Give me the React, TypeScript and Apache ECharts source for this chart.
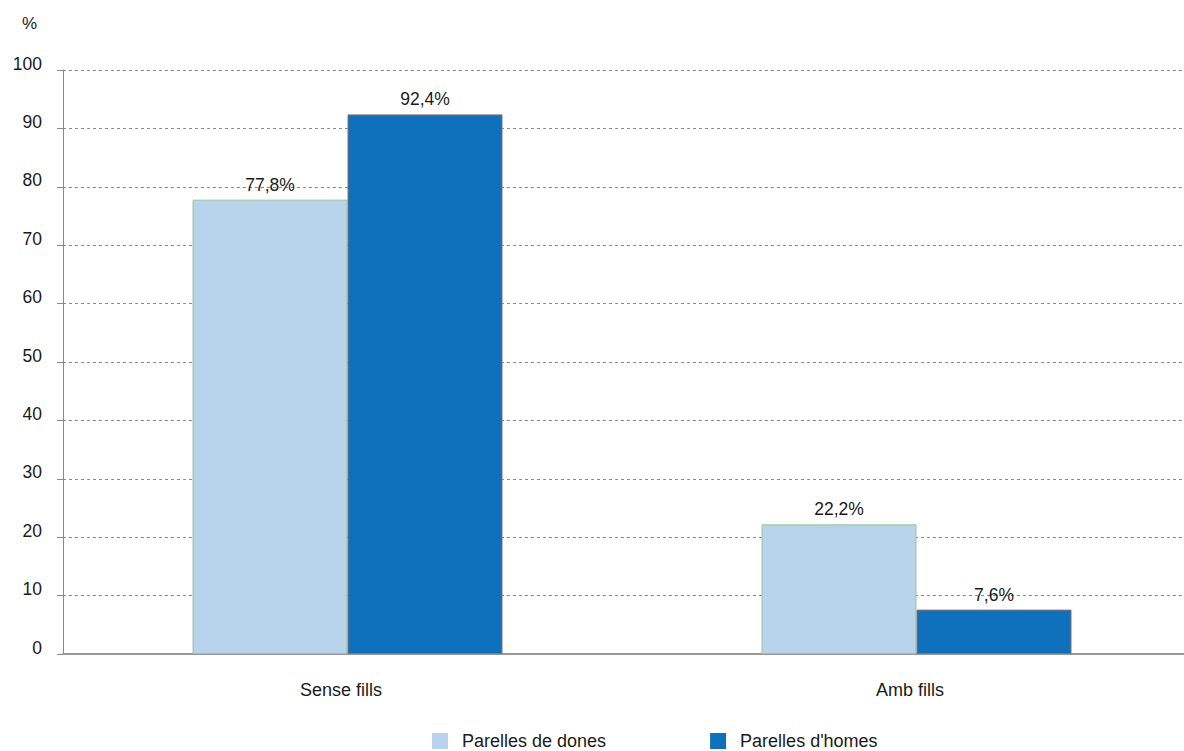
import React, { useEffect, useRef } from "react";
import * as echarts from "echarts";

const categories = ["Sense fills", "Amb fills"];
const women = [77.8, 22.2];
const men = [92.4, 7.6];
const seriesNames = ["Parelles de dones", "Parelles d'homes"];

const FONT = "Liberation Sans, Arial, Helvetica, sans-serif";
const TXT = "#1a1a1a";

export default function App() {
  const ref = useRef<HTMLDivElement>(null);
  useEffect(() => {
    const chart = echarts.init(ref.current!, null, { renderer: "svg" });
    const fmt = (p: any) => p.value.toFixed(1).replace(".", ",") + "%";
    chart.setOption({
      animation: false,
      textStyle: { fontFamily: FONT },
      grid: {
        left: 63,
        width: 1138,
        top: 70,
        bottom: 97,
        containLabel: false,
        outerBoundsMode: "none",
      },
      graphic: [
        {
          type: "text",
          left: 22,
          top: 15,
          style: { text: "%", fontFamily: FONT, fontSize: 17, fill: TXT },
        },
      ],
      legend: {
        top: 732,
        left: 432,
        padding: 0,
        itemWidth: 16,
        itemHeight: 16,
        itemGap: 104,
        icon: "rect",
        itemStyle: { borderWidth: 0 },
        textStyle: { fontFamily: FONT, fontSize: 18, color: TXT, padding: [0, 0, 0, 9] },
        data: seriesNames,
      },
      xAxis: {
        type: "category",
        data: categories,
        axisLine: { lineStyle: { color: "#9a9a9a", width: 2 } },
        axisTick: { show: false },
        axisLabel: { fontFamily: FONT, fontSize: 18, color: TXT, margin: 27, padding: [0, 13, 0, 0] },
      },
      yAxis: {
        type: "value",
        min: 0,
        max: 100,
        interval: 10,
        axisLine: { show: true, lineStyle: { color: "#888", width: 1 } },
        axisTick: { show: true, length: 6, lineStyle: { color: "#888" } },
        axisLabel: {
          fontFamily: FONT,
          fontSize: 17.5,
          color: TXT,
          margin: 21,
          verticalAlign: "bottom",
          lineHeight: 13,
        },
        splitLine: { lineStyle: { color: "#8a8a8a", type: [3, 3], width: 1 } },
      },
      series: [
        {
          name: seriesNames[0],
          type: "bar",
          data: women,
          barWidth: 155,
          barGap: "0%",
          itemStyle: { color: "#b8d3ec", borderColor: "#9cc49a", borderWidth: 1 },
          label: { show: true, position: "top", distance: 6, formatter: fmt, fontFamily: FONT, fontSize: 17.5, color: TXT },
        },
        {
          name: seriesNames[1],
          type: "bar",
          data: men,
          barWidth: 155,
          barGap: "0%",
          itemStyle: { color: "#0f71bb", borderColor: "#8a6f72", borderWidth: 1 },
          label: { show: true, position: "top", distance: 6, formatter: fmt, fontFamily: FONT, fontSize: 17.5, color: TXT },
        },
      ],
    });
    return () => chart.dispose();
  }, []);
  return (
    <div
      ref={ref}
      style={{ position: "absolute", left: 0, top: 0, width: 1184, height: 751, overflow: "hidden" }}
    />
  );
}
